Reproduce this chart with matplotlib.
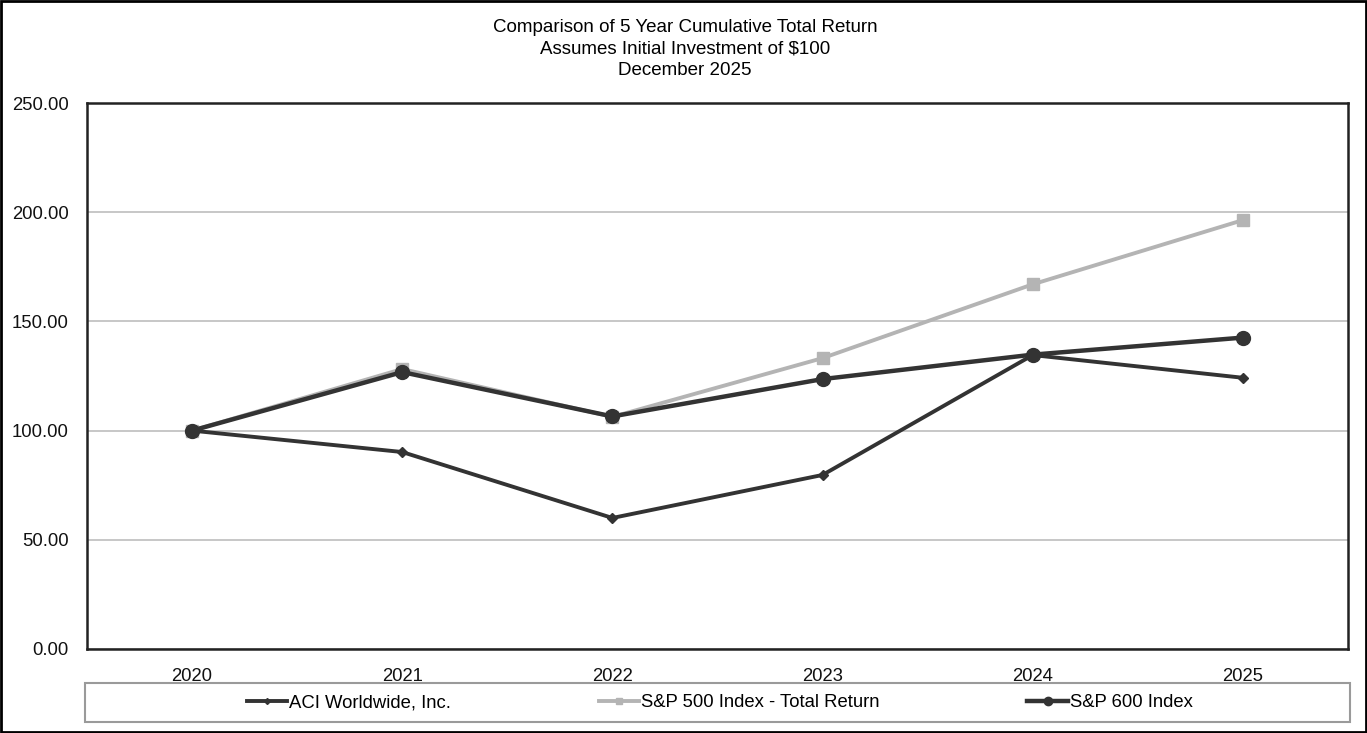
import matplotlib
matplotlib.use("Agg")
from matplotlib import pyplot as plt
from matplotlib.patches import Rectangle

plt.rcParams['font.family'] = ['Liberation Sans', 'DejaVu Sans']

# ====
# Data
years = ["2020", "2021", "2022", "2023", "2024", "2025"]
aci = [100.00, 90.2, 60.0, 79.7, 134.6, 124.2]
sp500 = [100.00, 128.2, 106.3, 133.2, 167.0, 196.4]
sp600 = [100.00, 126.8, 106.5, 123.6, 134.8, 142.6]
yticks = [0, 50, 100, 150, 200, 250]

fig = plt.figure(figsize=(13.67, 7.33), dpi=100)
ax = fig.add_axes([0.0636, 0.1146, 0.9225, 0.7448])

x = list(range(len(years)))
ax.plot(x, aci, color="#333333", lw=2.8, marker="D", ms=5, label="ACI Worldwide, Inc.", zorder=3)
ax.plot(x, sp500, color="#b4b4b4", lw=2.8, marker="s", ms=8, label="S&P 500 Index - Total Return", zorder=2)
ax.plot(x, sp600, color="#333333", lw=3.2, marker="o", ms=10, label="S&P 600 Index", zorder=4)

ax.set_xlim(-0.5, len(years) - 0.5)
ax.set_ylim(0, 250)
ax.set_xticks(x)
ax.set_xticklabels(years)
ax.set_yticks(yticks)
ax.set_yticklabels(["%.2f" % v for v in yticks])
ax.tick_params(length=0, labelsize=13.3, colors="#111111")
ax.tick_params(axis="x", pad=14)
ax.tick_params(axis="y", pad=13)
ax.grid(axis="y", color="#bdbdbd", lw=1.2)
ax.set_axisbelow(True)
for s in ax.spines.values():
    s.set_color("#222222")
    s.set_linewidth(1.8)

fig.text(0.501, 0.963, "Comparison of 5 Year Cumulative Total Return", ha="center", va="center", fontsize=13.5)
fig.text(0.501, 0.933, "Assumes Initial Investment of $100", ha="center", va="center", fontsize=13.5)
fig.text(0.501, 0.9045, "December 2025", ha="center", va="center", fontsize=13.5)

# legend box
fig.patches.append(Rectangle((0.0622, 0.015), 0.9256, 0.053, transform=fig.transFigure,
                             fill=False, edgecolor="#9a9a9a", lw=1.5))
fig.legend(loc="center", bbox_to_anchor=(0.5265, 0.0415), ncol=3, frameon=False,
           fontsize=13.3, handlelength=2.2, handletextpad=0.1, columnspacing=8.0, markerscale=0.6)

# outer border
fig.patches.append(Rectangle((0.001, 0.001), 0.998, 0.997, transform=fig.transFigure,
                             fill=False, edgecolor="black", lw=2))

fig.savefig("out.png", dpi=100)
